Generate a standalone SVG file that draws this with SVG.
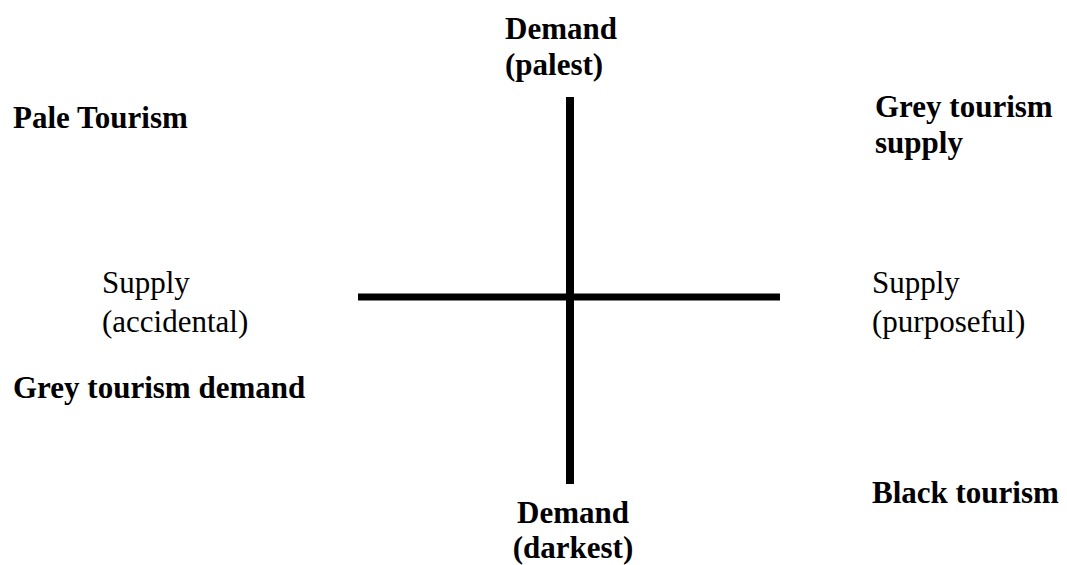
<svg xmlns="http://www.w3.org/2000/svg" width="1067" height="565" viewBox="0 0 1067 565">
<style>
.b{font-family:"Liberation Serif","Times New Roman",serif;font-size:31px;font-weight:bold;fill:#000}
.r{font-family:"Liberation Serif","Times New Roman",serif;font-size:31px;fill:#000}
.ax{stroke:#000;fill:none}
</style>
<rect width="1067" height="565" fill="#fff"/>
<g id="connectors">
<line class="ax" x1="570" y1="97" x2="570" y2="484" stroke-width="8"/>
<line class="ax" x1="358" y1="297" x2="780" y2="297" stroke-width="7"/>
</g>
<g id="demand-palest"><text class="b" x="505" y="39">Demand</text><text class="b" x="505" y="75">(palest)</text></g>
<g id="demand-darkest"><text class="b" x="573" y="523" text-anchor="middle">Demand</text><text class="b" x="573" y="558" text-anchor="middle">(darkest)</text></g>
<g id="pale-tourism"><text class="b" x="13" y="128">Pale Tourism</text></g>
<g id="grey-tourism-supply"><text class="b" x="875" y="117">Grey tourism</text><text class="b" x="875" y="153">supply</text></g>
<g id="supply-accidental"><text class="r" x="102" y="293">Supply</text><text class="r" x="102" y="332">(accidental)</text></g>
<g id="supply-purposeful"><text class="r" x="872" y="293">Supply</text><text class="r" x="872" y="332">(purposeful)</text></g>
<g id="grey-tourism-demand"><text class="b" x="13" y="398">Grey tourism demand</text></g>
<g id="black-tourism"><text class="b" x="872" y="503">Black tourism</text></g>
</svg>
